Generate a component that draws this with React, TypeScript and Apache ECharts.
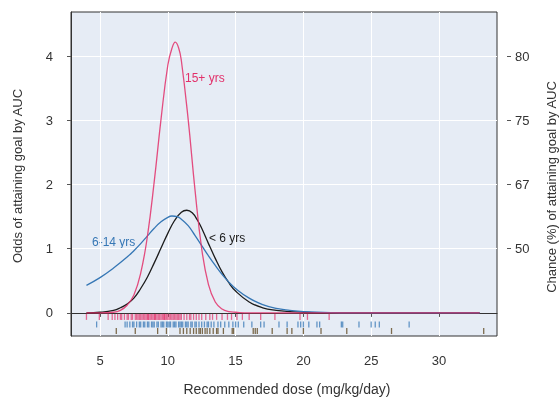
import React, { useEffect, useRef } from "react";
import * as echarts from "echarts";

// ---- Curve data (dose in mg/kg/day, odds of attaining goal by AUC) ----
const doseAdult = [4, 5, 6, 6.5, 7, 7.5, 8, 8.5, 9, 9.5, 10, 10.3, 10.55, 10.8, 11, 11.5, 12, 12.5, 13, 13.5, 14, 14.5, 15, 16, 17, 33];
const oddsAdult = [0, 0, 0.01, 0.04, 0.12, 0.28, 0.62, 1.2, 2.05, 3.02, 3.86, 4.12, 4.22, 4.13, 3.93, 3.02, 1.93, 1.0, 0.44, 0.17, 0.06, 0.02, 0.01, 0, 0, 0];

const doseChild = [4, 5, 6, 7, 7.5, 8, 8.5, 9, 9.5, 10, 10.3, 10.7, 11, 11.5, 12, 12.5, 13, 13.5, 14, 14.5, 15, 16, 17, 18, 19, 20, 22, 25, 33];
const oddsChild = [0.43, 0.55, 0.7, 0.87, 0.97, 1.08, 1.2, 1.32, 1.42, 1.49, 1.51, 1.5, 1.46, 1.36, 1.21, 1.05, 0.89, 0.74, 0.6, 0.48, 0.38, 0.23, 0.13, 0.07, 0.04, 0.02, 0.005, 0, 0];

const doseYoung = [4, 5, 6, 6.5, 7, 7.5, 8, 8.5, 9, 9.5, 10, 10.5, 11, 11.4, 11.8, 12.2, 12.5, 13, 13.5, 14, 14.5, 15, 16, 17, 18, 19, 20, 22, 33];
const oddsYoung = [0, 0.01, 0.04, 0.08, 0.14, 0.23, 0.38, 0.56, 0.78, 1.01, 1.24, 1.44, 1.57, 1.6, 1.56, 1.44, 1.32, 1.08, 0.85, 0.64, 0.47, 0.34, 0.17, 0.08, 0.04, 0.02, 0.01, 0, 0];

// ---- Rug data: individual recommended doses ----
const rugAdult = [4.0, 4.95, 5.6, 5.9, 6.1, 6.3, 6.5, 6.6, 6.8, 7.0, 7.1, 7.3, 7.4, 7.6, 7.7, 7.8, 7.9, 8.0, 8.1, 8.2, 8.3, 8.4, 8.5, 8.55, 8.6, 8.7, 8.8, 8.9, 9.0, 9.05, 9.1, 9.2, 9.3, 9.4, 9.5, 9.6, 9.7, 9.75, 9.8, 9.9, 10.0, 10.1, 10.2, 10.3, 10.4, 10.5, 10.6, 10.7, 10.8, 10.9, 11.0, 11.2, 11.4, 11.6, 11.7, 11.9, 12.1, 12.3, 12.5, 12.8, 13.1, 13.3, 13.6, 14.0, 14.4, 14.7, 15.1, 15.5, 16.0, 16.85, 17.9, 19.75, 20.3, 21.9];
const rugChild = [4.75, 6.85, 7.0, 7.2, 7.4, 7.5, 7.7, 7.9, 8.0, 8.2, 8.3, 8.5, 8.6, 8.8, 8.9, 9.0, 9.2, 9.3, 9.5, 9.6, 9.7, 9.9, 10.0, 10.1, 10.2, 10.4, 10.5, 10.6, 10.8, 10.9, 11.0, 11.1, 11.3, 11.4, 11.5, 11.7, 11.8, 12.0, 12.1, 12.3, 12.5, 12.7, 12.9, 13.0, 13.2, 13.4, 13.7, 13.9, 14.2, 14.5, 14.8, 15.0, 15.2, 15.6, 16.2, 16.85, 17.1, 18.2, 18.8, 19.6, 19.8, 20.0, 20.4, 21.0, 21.2, 22.8, 22.9, 24.1, 25.0, 25.3, 25.6, 27.8];
const rugYoung = [6.2, 7.6, 9.25, 9.9, 10.9, 11.15, 11.4, 11.65, 11.9, 12.1, 12.3, 12.4, 12.55, 12.75, 12.9, 13.1, 13.35, 13.6, 13.7, 14.1, 14.75, 14.85, 16.3, 16.45, 16.6, 17.7, 18.8, 19.15, 20.0, 21.3, 23.2, 26.5, 33.3];

// ---- Axis ticks ----
const doseTicks = [5, 10, 15, 20, 25, 30];
const oddsTicks = [0, 1, 2, 3, 4];
const chanceTicks = [1, 2, 3, 4];
const chanceLabels = ["50", "67", "75", "80"];

const groupNames = ["15+ yrs", "6-14 yrs", "< 6 yrs"];

const FONT = "'Liberation Sans', Arial, sans-serif";
const RED = "#e2306a";
const BLUE = "#3677b5";
const BLACK = "#1c1c1c";
const RUG_DARK = "#6a5530";

const zip = (xs: number[], ys: number[]) => xs.map((x, i) => [x, ys[i]]);

export default function App() {
  const ref = useRef<HTMLDivElement>(null);
  useEffect(() => {
    const chart = echarts.init(ref.current!, null, { renderer: "svg" });
    const rugSeries = (vals: number[], y: number, color: string, opacity: number) => ({
      type: "scatter",
      silent: true,
      symbol: "rect",
      symbolSize: [1.3, 6],
      itemStyle: { color, opacity },
      data: vals.map((v) => [v, y]),
      z: 1,
    });
    const curve = (name: string, xs: number[], ys: number[], color: string, z: number, opacity: number) => ({
      name,
      type: "line",
      smooth: 0.45,
      showSymbol: false,
      lineStyle: { color, width: 1.3, opacity },
      data: zip(xs, ys),
      z,
    });
    chart.setOption({
      animation: false,
      textStyle: { fontFamily: FONT },
      grid: {
        left: 71,
        right: 63,
        top: 12,
        bottom: 62,
        show: true,
        backgroundColor: "#e6ecf5",
        borderColor: "#333",
        borderWidth: 1,
      },
      xAxis: {
        type: "value",
        min: 2.86,
        max: 34.28,
        axisLine: { show: true, lineStyle: { color: "#333" } },
        axisTick: { show: true, length: 4, customValues: doseTicks, lineStyle: { color: "#555" } },
        axisLabel: { customValues: doseTicks, margin: 18, fontSize: 13, color: "#333", fontFamily: FONT },
        splitLine: { show: true, lineStyle: { color: "#ffffff", width: 1 } },
      },
      yAxis: [
        {
          type: "value",
          min: -0.36,
          max: 4.69,
          axisLine: { show: true, lineStyle: { color: "#333" } },
          axisTick: { show: true, length: 4, customValues: oddsTicks, lineStyle: { color: "#555" } },
          axisLabel: { customValues: oddsTicks, margin: 18, fontSize: 13, color: "#333", fontFamily: FONT },
          splitLine: { show: true, lineStyle: { color: "#ffffff", width: 1 } },
        },
        {
          type: "value",
          position: "right",
          offset: 10,
          min: -0.36,
          max: 4.69,
          axisLine: { show: false },
          axisTick: { show: true, length: 4, customValues: chanceTicks, lineStyle: { color: "#555" } },
          axisLabel: {
            customValues: chanceTicks,
            margin: 8,
            fontSize: 13,
            color: "#333",
            fontFamily: FONT,
            formatter: (v: number) => {
              const i = chanceTicks.indexOf(Math.round(v));
              return i >= 0 ? chanceLabels[i] : "";
            },
          },
          splitLine: { show: false },
        },
      ],
      series: [
        rugSeries(rugAdult, -0.062, RED, 0.7),
        rugSeries(rugChild, -0.18, BLUE, 0.75),
        rugSeries(rugYoung, -0.282, RUG_DARK, 0.85),
        curve(groupNames[2], doseYoung, oddsYoung, BLACK, 3, 1),
        curve(groupNames[1], doseChild, oddsChild, BLUE, 3, 1),
        curve(groupNames[0], doseAdult, oddsAdult, RED, 4, 0.85),
      ],
      graphic: [
        { type: "text", left: 185, top: 72, style: { text: groupNames[0], fill: RED, font: `12px ${FONT}` } },
        { type: "text", left: 92, top: 236, style: { text: groupNames[1], fill: BLUE, font: `12px ${FONT}` } },
        { type: "text", left: 209, top: 232, style: { text: groupNames[2], fill: BLACK, font: `12px ${FONT}` } },
        {
          type: "text",
          x: 17,
          y: 176,
          rotation: Math.PI / 2,
          style: { text: "Odds of attaining goal by AUC", fill: "#333", font: `13px ${FONT}`, align: "center", verticalAlign: "middle" },
        },
        {
          type: "text",
          x: 551,
          y: 187,
          rotation: Math.PI / 2,
          style: { text: "Chance (%) of attaining goal by AUC", fill: "#333", font: `13px ${FONT}`, align: "center", verticalAlign: "middle" },
        },
        {
          type: "text",
          x: 287,
          y: 389,
          style: { text: "Recommended dose (mg/kg/day)", fill: "#333", font: `14px ${FONT}`, align: "center", verticalAlign: "middle" },
        },
      ],
    });
    return () => chart.dispose();
  }, []);
  return <div ref={ref} style={{ position: "fixed", left: 0, top: 0, width: 560, height: 398 }} />;
}
